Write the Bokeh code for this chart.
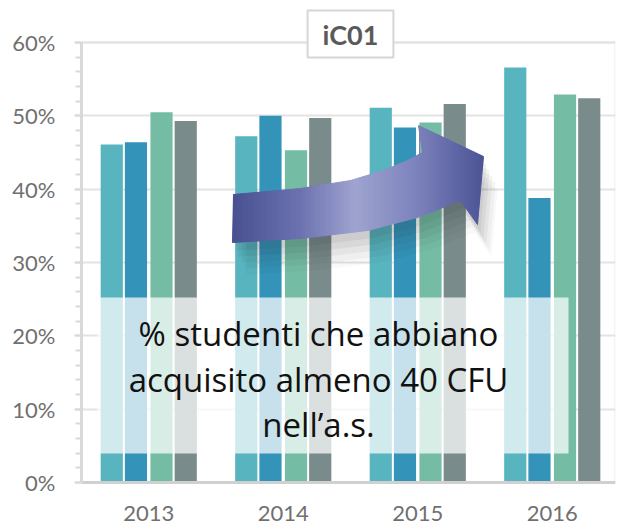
import numpy as np
from bokeh.plotting import figure
from bokeh.models import (ColumnDataSource, Label, BoxAnnotation, FixedTicker,
                          SingleIntervalTicker)
from bokeh.transform import dodge
from bokeh.embed import file_html
from bokeh.resources import INLINE

# ---------------- data ----------------
years = ["2013", "2014", "2015", "2016"]
serie_1 = [46.1, 47.2, 51.1, 56.6]
serie_2 = [46.4, 50.0, 48.4, 38.8]
serie_3 = [50.5, 45.3, 49.1, 52.9]
serie_4 = [49.3, 49.7, 51.6, 52.4]
y_ticks = [0, 10, 20, 30, 40, 50, 60]
y_tick_labels = ["0%", "10%", "20%", "30%", "40%", "50%", "60%"]
title_text = "iC01"
note_lines = ["% studenti che abbiano", "acquisito almeno 40 CFU", "nell\u2019a.s."]

colors = ["#58b5bf", "#3393b9", "#74bda4", "#7a8b8c"]
offsets = [-0.275, -0.095, 0.095, 0.275]
bar_w = 0.165

# ---------------- figure ----------------
W, H = 617, 528
OFF = 0                      # page offset of the figure
ML, MR, MT, MB = 81, W - 615, 2, 1
PX_PER_UNIT = 7.3333
ZERO_PX = 482
X0 = -0.5
X1 = X0 + (615 - 81) / 134.5
Y0 = -((H - MB) - ZERO_PX) / PX_PER_UNIT
Y1 = (ZERO_PX - MT) / PX_PER_UNIT
Y_TOP = 60

p = figure(width=W, height=H, x_range=(X0, X1), y_range=(Y0, Y1),
           output_backend="svg", toolbar_location=None,
           min_border_left=ML, min_border_right=MR,
           min_border_top=MT, min_border_bottom=MB)
p.background_fill_color = "white"
p.border_fill_color = "white"
p.outline_line_color = None

fl, fr = OFF + ML, OFF + W - MR
ft, fb = OFF + MT, OFF + H - MB
def dx(px):
    return X0 + (px - fl) * (X1 - X0) / (fr - fl)
def dy(py):
    return Y0 + (fb - py) * (Y1 - Y0) / (fb - ft)

# plot-area border (0..60)
p.add_layout(BoxAnnotation(left=X0, right=X1, bottom=0, top=Y_TOP,
                           fill_alpha=0, line_color="#dedede", line_width=3,
                           level="underlay"))

src = ColumnDataSource(dict(x=list(range(len(years))), s1=serie_1, s2=serie_2,
                            s3=serie_3, s4=serie_4))
for key, c, off in zip(["s1", "s2", "s3", "s4"], colors, offsets):
    p.vbar(x=dodge("x", off), top=key, bottom=0, width=bar_w, source=src,
           fill_color=c, line_color=None)

# ---------------- arrow (decoration) ----------------
arrow_px = [(232, 242), (233, 194), (300, 188), (350, 180), (383, 170),
            (407, 160), (422, 152), (418, 125), (483, 156), (477, 224),
            (460, 200), (417, 217), (367, 230), (300, 238)]

def clip(poly, xv, keep_greater):
    out = []
    n = len(poly)
    for i in range(n):
        a = poly[i]; b = poly[(i + 1) % n]
        ina = a[0] >= xv if keep_greater else a[0] <= xv
        inb = b[0] >= xv if keep_greater else b[0] <= xv
        if ina:
            out.append(a)
        if ina != inb:
            t = (xv - a[0]) / (b[0] - a[0])
            out.append((xv, a[1] + t * (b[1] - a[1])))
    return out

stops = [(232, (0x48, 0x50, 0x90)), (300, (0x6c, 0x72, 0xb0)),
         (355, (0x9e, 0xa3, 0xcf)), (410, (0x80, 0x86, 0xbf)),
         (483, (0x4c, 0x54, 0x96))]
def grad(px):
    for (xa, ca), (xb, cb) in zip(stops[:-1], stops[1:]):
        if xa <= px <= xb:
            t = (px - xa) / (xb - xa)
            c = [int(round(ca[k] + t * (cb[k] - ca[k]))) for k in range(3)]
            return "#%02x%02x%02x" % tuple(c)
    return "#%02x%02x%02x" % (stops[-1][1] if px > stops[-1][0] else stops[0][1])

for (ox, oy, a) in [(3, 8, 0.06), (6, 14, 0.06), (9, 20, 0.05), (12, 26, 0.04),
                    (14, 32, 0.03)]:
    p.patch([dx(x + ox) for x, y in arrow_px], [dy(y + oy) for x, y in arrow_px],
            fill_color="#222222", fill_alpha=a, line_color=None)

xs, ys, cs = [], [], []
step = 3
for s in range(230, 486, step):
    poly = clip(clip(arrow_px, s, True), s + step, False)
    if len(poly) < 3:
        continue
    xs.append([dx(x) for x, y in poly])
    ys.append([dy(y) for x, y in poly])
    cs.append(grad(s + step / 2))
p.patches(xs, ys, fill_color=cs, line_color=cs, line_width=1)

# ---------------- overlay box & note ----------------
p.add_layout(BoxAnnotation(left=dx(97), right=dx(568), top=dy(297), bottom=dy(453),
                           fill_color="white", fill_alpha=0.72, line_alpha=0))
for line, py in zip(note_lines, [333, 379, 424]):
    p.add_layout(Label(x=dx(318), y=dy(py), text=line, text_align="center",
                       text_baseline="middle", text_font="Open Sans",
                       text_font_size="33px", text_color="#111111"))

# ---------------- title box ----------------
pad = dict(left=15, right=15, top=7, bottom=7)
p.add_layout(Label(x=dx(350), y=dy(33.5), text=title_text, text_align="center",
                   text_baseline="middle", text_font="Lato", text_font_size="27px",
                   text_font_style="bold", text_alpha=0, x_offset=4, y_offset=-6,
                   background_fill_color="#888888", background_fill_alpha=0.35,
                   padding=pad))
p.add_layout(Label(x=dx(350), y=dy(33.5), text=title_text, text_align="center",
                   text_baseline="middle", text_font="Lato", text_font_size="27px",
                   text_font_style="bold", text_color="#5a5a5a",
                   background_fill_color="white", border_line_color="#d6d6d6",
                   border_line_width=2, padding=pad))

# ---------------- axes ----------------
p.xgrid.grid_line_color = None
p.ygrid.grid_line_color = "#e3e3e3"
p.ygrid.grid_line_width = 2

p.xaxis.fixed_location = 0
p.xaxis.ticker = FixedTicker(ticks=list(range(len(years))))
p.xaxis.major_label_overrides = {i: y for i, y in enumerate(years)}
p.xaxis.axis_line_color = "#d0d0d0"
p.xaxis.axis_line_width = 3
p.xaxis.major_tick_line_color = None
p.xaxis.minor_tick_line_color = None
p.xaxis.major_tick_out = 0
p.xaxis.major_tick_in = 0
p.xaxis.major_label_standoff = 23
p.xaxis.major_label_text_font = "Lato"
p.xaxis.major_label_text_font_size = "22px"
p.xaxis.major_label_text_color = "#707070"

p.yaxis.bounds = (0, Y_TOP)
p.yaxis.ticker = SingleIntervalTicker(interval=10, num_minor_ticks=5)
p.yaxis.major_label_overrides = {t: l for t, l in zip(y_ticks, y_tick_labels)}
p.yaxis.axis_line_color = "#d9d9d9"
p.yaxis.axis_line_width = 3
p.yaxis.major_tick_line_color = "#d9d9d9"
p.yaxis.major_tick_line_width = 2
p.yaxis.minor_tick_line_color = "#d9d9d9"
p.yaxis.minor_tick_line_width = 2
p.yaxis.major_tick_out = 7
p.yaxis.major_tick_in = 0
p.yaxis.minor_tick_out = 6
p.yaxis.minor_tick_in = 0
p.yaxis.major_label_standoff = 19
p.yaxis.major_label_text_font = "Lato"
p.yaxis.major_label_text_font_size = "22px"
p.yaxis.major_label_text_color = "#707070"

open("out.html", "w").write(file_html(p, INLINE))
